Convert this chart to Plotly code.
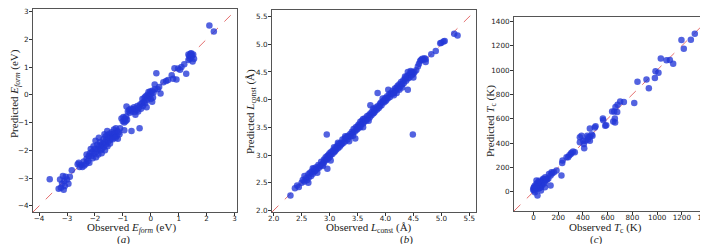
import plotly.graph_objects as go

# ---------------- data ----------------
# Panel (a): formation energy (eV)
ef_obs = [-3.62, -3.3, -3.22, -3.12, -3.18, -3.1, -3.05, -3.15, -3.0, -2.95, -3.25, -2.9, -3.08, -2.83,
          -2.62, -2.55, -2.58, -2.5, -2.45, -2.4, -2.38, -2.32, -2.3, -2.25, -2.22, -2.2, -2.18,
          -2.15, -2.12, -2.1, -2.05, -2.02, -2.0, -1.98, -1.95, -1.92, -1.9, -1.88, -1.85, -1.82, -1.8,
          -1.78, -1.75, -1.72, -1.7, -1.68, -1.65, -1.62, -1.6, -1.58, -1.55, -1.55, -1.52, -1.5, -1.48,
          -1.45, -1.42, -1.4, -1.38, -1.35, -1.32, -1.3, -1.28, -1.25, -1.22, -1.2, -1.18, -1.15,
          -2.3, -2.08, -1.96, -1.86, -1.76, -1.66, -1.64, -1.56, -1.46, -1.36, -1.26, -1.12, -1.1,
          -1.05, -1.0, -0.98, -0.95, -0.92, -0.9, -0.88, -0.85, -0.87, -0.82, -0.95, -0.69, -0.4,
          -0.78, -0.75, -0.72, -0.68, -0.65, -0.6, -0.58, -0.55, -0.5, -0.48, -0.45, -0.42, -0.38,
          -0.35, -0.32, -0.3, -0.28, -0.25, -0.22, -0.2, -0.18, -0.15, -0.12, -0.1, -0.08, -0.05,
          -0.02, 0.0, 0.02, 0.05, 0.08, 0.1, 0.05, -0.15, 0.15, 0.2, 0.14, 0.3, 0.35, 0.25, 0.45,
          0.55, 0.62, 0.75, 0.85, 0.98, 0.8, 0.92, 1.27, 1.1, 1.2, 1.05, 1.35, 1.38, 1.4, 1.42, 1.45,
          1.48, 1.5, 1.52, 1.55, 1.35, 1.45, 2.1, 2.26, -0.55]
ef_pred = [-3.04, -3.38, -3.35, -3.42, -3.2, -3.1, -2.95, -2.92, -3.05, -3.2, -3.05, -2.95, -3.28, -2.72,
           -2.5, -2.6, -2.45, -2.52, -2.6, -2.4, -2.55, -2.48, -2.3, -2.38, -2.2, -2.45, -2.1,
           -1.95, -2.2, -2.05, -1.85, -2.12, -1.95, -1.65, -2.05, -1.8, -1.95, -2.15, -1.85, -1.7, -2.0,
           -1.82, -1.95, -1.75, -1.6, -1.88, -1.7, -1.5, -1.78, -1.62, -1.45, -1.85, -1.68, -1.55, -1.4,
           -1.62, -1.5, -1.35, -1.55, -1.42, -1.25, -1.5, -1.38, -1.2, -1.48, -1.3, -1.58, -1.35,
           -2.15, -2.28, -2.25, -1.55, -2.1, -1.42, -2.0, -1.3, -1.75, -1.6, -1.55, -1.42, -1.2,
           -0.85, -0.95, -0.8, -1.0, -0.85, -0.95, -0.78, -0.9, -0.42, -0.6, -1.28, -1.3, -1.2,
           -0.55, -0.65, -0.5, -0.6, -0.52, -0.45, -0.62, -0.5, -0.55, -0.4, -0.6, -0.45, -0.35,
           -0.5, -0.3, -0.15, -0.4, -0.25, -0.1, -0.3, -0.05, -0.2, 0.0, -0.12, 0.1, -0.05,
           0.12, -0.15, 0.05, 0.15, -0.1, 0.08, -0.25, -0.45, 0.2, 0.78, 0.37, 0.28, 0.05, 0.2, 0.45,
           0.5, 0.53, 0.7, 0.96, 0.95, 0.58, 0.55, 0.76, 1.0, 1.1, 0.9, 1.25, 1.4, 1.3, 1.48, 1.35,
           1.42, 1.2, 1.45, 1.3, 1.45, 1.5, 2.5, 2.28, -0.72]

# Panel (b): lattice constant (Å)
lc_obs = [2.3, 2.38, 2.42, 2.45, 2.5, 2.52, 2.55, 2.55, 2.58, 2.6, 2.62, 2.63, 2.65, 2.67, 2.68, 2.7,
          2.72, 2.73, 2.75, 2.76, 2.78, 2.8, 2.81, 2.83, 2.85, 2.86, 2.88, 2.9, 2.9, 2.92, 2.93, 2.95,
          2.96, 2.97, 2.95, 2.96, 2.98, 3.0, 3.0, 3.02, 3.03, 3.05, 3.06, 3.08, 3.1, 3.1, 3.12, 3.13,
          3.15, 3.16, 3.18, 3.2, 3.2, 3.22, 3.23, 3.25, 3.27, 3.28, 3.3, 3.32, 3.33, 3.35, 3.37, 3.38,
          3.4, 3.42, 3.43, 3.45, 3.46, 3.47, 3.48, 3.5, 3.5, 3.52, 3.53, 3.55, 3.56, 3.58, 3.6, 3.6,
          3.62, 3.63, 3.65, 3.67, 3.68, 3.7, 3.72, 3.73, 3.73, 3.75, 3.76, 3.78, 3.8, 3.8, 3.82, 3.83,
          3.85, 3.86, 3.86, 3.88, 3.9, 3.9, 3.92, 3.93, 3.95, 3.97, 3.98, 4.0, 4.0, 4.02, 4.03, 4.05,
          4.07, 4.08, 4.1, 4.12, 4.13, 4.15, 4.17, 4.18, 4.2, 4.2, 4.22, 4.23, 4.25, 4.27, 4.28, 4.3,
          4.3, 4.32, 4.33, 4.35, 4.37, 4.38, 4.4, 4.4, 4.42, 4.43, 4.45, 4.47, 4.48, 4.5, 4.52, 4.49,
          4.55, 4.58, 4.6, 4.62, 4.64, 4.66, 4.68, 4.7, 4.72, 4.72, 4.82, 4.9, 4.98, 5.0, 5.04, 5.06,
          5.23, 5.29, 3.02, 3.35, 3.6, 4.05, 4.5, 4.4, 2.62, 2.78, 3.15, 3.42, 3.7, 3.95, 4.25, 4.35,
          2.7, 2.88, 3.08, 3.28, 3.55, 3.78, 4.15, 4.45]
lc_pred = [2.27, 2.4, 2.45, 2.42, 2.5, 2.55, 2.52, 2.62, 2.58, 2.55, 2.65, 2.6, 2.68, 2.62, 2.7, 2.66,
           2.75, 2.7, 2.72, 2.78, 2.75, 2.82, 2.77, 2.8, 2.88, 2.82, 2.85, 2.92, 2.86, 2.9, 2.96, 2.92,
           2.98, 2.93, 3.37, 2.75, 3.0, 2.96, 3.03, 3.0, 3.06, 3.02, 3.08, 3.05, 3.12, 3.07, 3.1, 3.16,
           3.12, 3.2, 3.15, 3.22, 3.18, 3.2, 3.28, 3.22, 3.3, 3.25, 3.32, 3.28, 3.35, 3.33, 3.38, 3.34,
           3.42, 3.4, 3.47, 3.42, 3.3, 3.5, 3.45, 3.52, 3.47, 3.55, 3.5, 3.6, 3.55, 3.62, 3.57, 3.65,
           3.6, 3.66, 3.62, 3.7, 3.65, 3.72, 3.68, 3.9, 3.75, 3.72, 3.78, 3.75, 3.82, 3.77, 3.8, 3.86,
           3.82, 4.12, 3.88, 3.85, 3.92, 3.88, 3.95, 3.9, 3.97, 3.95, 4.0, 3.97, 4.03, 4.0, 4.06, 4.03,
           4.1, 4.05, 4.12, 4.1, 4.16, 4.12, 4.2, 4.16, 4.22, 4.12, 4.25, 4.2, 4.28, 4.24, 4.32, 4.28,
           4.22, 4.35, 4.3, 4.38, 4.34, 4.42, 4.38, 4.18, 4.45, 4.4, 4.48, 4.44, 4.5, 4.47, 4.5, 3.37,
           4.53, 4.6, 4.65, 4.7, 4.72, 4.74, 4.72, 4.75, 4.73, 4.68, 4.82, 4.88, 5.02, 5.03, 5.05, 5.06,
           5.19, 5.16, 2.9, 3.25, 3.5, 4.18, 4.4, 4.5, 2.5, 2.68, 3.22, 3.35, 3.62, 4.02, 4.18, 4.42,
           2.76, 2.8, 3.14, 3.34, 3.5, 3.84, 4.08, 4.52]

# Panel (c): Curie temperature (K)
tc_obs = [0, 5, -3, 5, 11, 24, 32, 38, 51, 65, 73, 78, 92, 105, 24, 45, 60, 55, 40, 70, 85, 30, 15, 50,
          80, 90, 100, 110, 120, 138, 138, 146, 165, 186, 226, 232, 235, 267, 280, 302, 307, 334, 375,
          375, 388, 402, 410, 407, 421, 434, 442, 456, 477, 456, 456, 496, 502, 561, 564, 580, 588,
          645, 660, 658, 636, 653, 677, 663, 680, 701, 731, 815, 841, 914, 933, 982, 987, 1011, 1030,
          1076, 1103, 1130, 1216, 1197, 1273, 1305, 290, 320, 440, 470, 150, 125, 60, 20, 10, 35, 45, 95]
tc_pred = [30, 10, 16, 38, -3, 65, -30, 25, 79, 65, 92, 106, 38, 106, 92, 50, 40, 75, 60, 55, 80, 45, 20, 30,
           100, 70, 95, 100, 110, 52, 133, 161, 161, 174, 133, 237, 256, 283, 283, 310, 321, 324, 406,
           447, 460, 419, 357, 392, 419, 460, 447, 452, 460, 419, 520, 528, 539, 602, 588, 542, 547,
           577, 569, 602, 659, 659, 656, 697, 714, 741, 738, 730, 904, 923, 850, 934, 991, 978, 1095,
           1081, 1083, 1051, 1176, 1247, 1250, 1299, 300, 330, 430, 470, 150, 145, 10, 40, 50, 75, 90, 120]

ranges = {"a": [-4.22, 3.09], "b": [1.97, 5.62], "c": [-158, 1436]}
ticks_a = [-4, -3, -2, -1, 0, 1, 2, 3]
ticks_b = [2.0, 2.5, 3.0, 3.5, 4.0, 4.5, 5.0, 5.5]
ticks_c = [0, 200, 400, 600, 800, 1000, 1200, 1400]

# ---------------- figure ----------------
W, H = 708, 244
fig = go.Figure()

marker = dict(color="rgba(35,55,215,0.78)", size=6.5, line=dict(width=0))
line_style = dict(color="rgba(215,40,40,0.85)", width=0.8, dash="dash")

panels = [
    ("", ef_obs, ef_pred, ranges["a"], ticks_a, None, (25, 229, 1, 204)),
    ("2", lc_obs, lc_pred, ranges["b"], ticks_b, ".1f", (264, 468, 2, 204)),
    ("3", tc_obs, tc_pred, ranges["c"], ticks_c, None, (506, 703, 9, 203)),
]

for suf, xo, yp, rng, tks, fmt, (x0, x1, y0, y1) in panels:
    xa, ya = "x" + suf, "y" + suf
    fig.add_trace(go.Scatter(x=[rng[0], rng[1]], y=[rng[0], rng[1]], mode="lines",
                             line=line_style, xaxis=xa, yaxis=ya, hoverinfo="skip", showlegend=False))
    fig.add_trace(go.Scatter(x=xo, y=yp, mode="markers", marker=marker,
                             xaxis=xa, yaxis=ya, showlegend=False))
    axcommon = dict(range=rng, tickvals=tks, showgrid=False, zeroline=False, showline=True,
                    linecolor="#555", linewidth=1, mirror=True, ticks="outside", ticklen=3,
                    tickwidth=0.8, tickcolor="#333", ticklabeloverflow="allow",
                    tickfont=dict(family="DejaVu Sans", size=7.2, color="#222"))
    if fmt:
        axcommon["tickformat"] = fmt
    key = "" if suf == "" else suf
    fig.layout["xaxis" + key] = dict(domain=[x0 / W, x1 / W], anchor=ya,
                                     ticklabelstandoff=-4, **axcommon)
    fig.layout["yaxis" + key] = dict(domain=[1 - y1 / H, 1 - y0 / H], anchor=xa,
                                     ticklabelstandoff=-1, **axcommon)

tfont = dict(family="Liberation Serif", size=11, color="#222")
annots = [
    ("Observed <i>E</i><sub><i>form</i></sub> (eV)", 123, 220, 0),
    ("(<i>a</i>)", 115, 231, 0),
    ("Predicted <i>E</i><sub><i>form</i></sub> (eV)", 7, 86, -90),
    ("Observed <i>L</i><sub>const</sub> (Å)", 361, 220, 0),
    ("(<i>b</i>)", 398, 231, 0),
    ("Predicted <i>L</i><sub>const</sub> (Å)", 243, 103, -90),
    ("Observed <i>T</i><sub>c</sub> (K)", 597, 220, 0),
    ("(<i>c</i>)", 588, 231, 0),
    ("Predicted <i>T</i><sub>c</sub> (K)", 483, 113, -90),
]
for txt, px, py, ang in annots:
    fig.add_annotation(text=txt, x=px / W, y=1 - py / H, xref="paper", yref="paper",
                       showarrow=False, textangle=ang, font=tfont,
                       xanchor="center", yanchor="middle")

fig.update_layout(width=W, height=H, margin=dict(l=0, r=0, t=0, b=0, autoexpand=False),
                  plot_bgcolor="white", paper_bgcolor="white")

fig.write_html("out.html")
